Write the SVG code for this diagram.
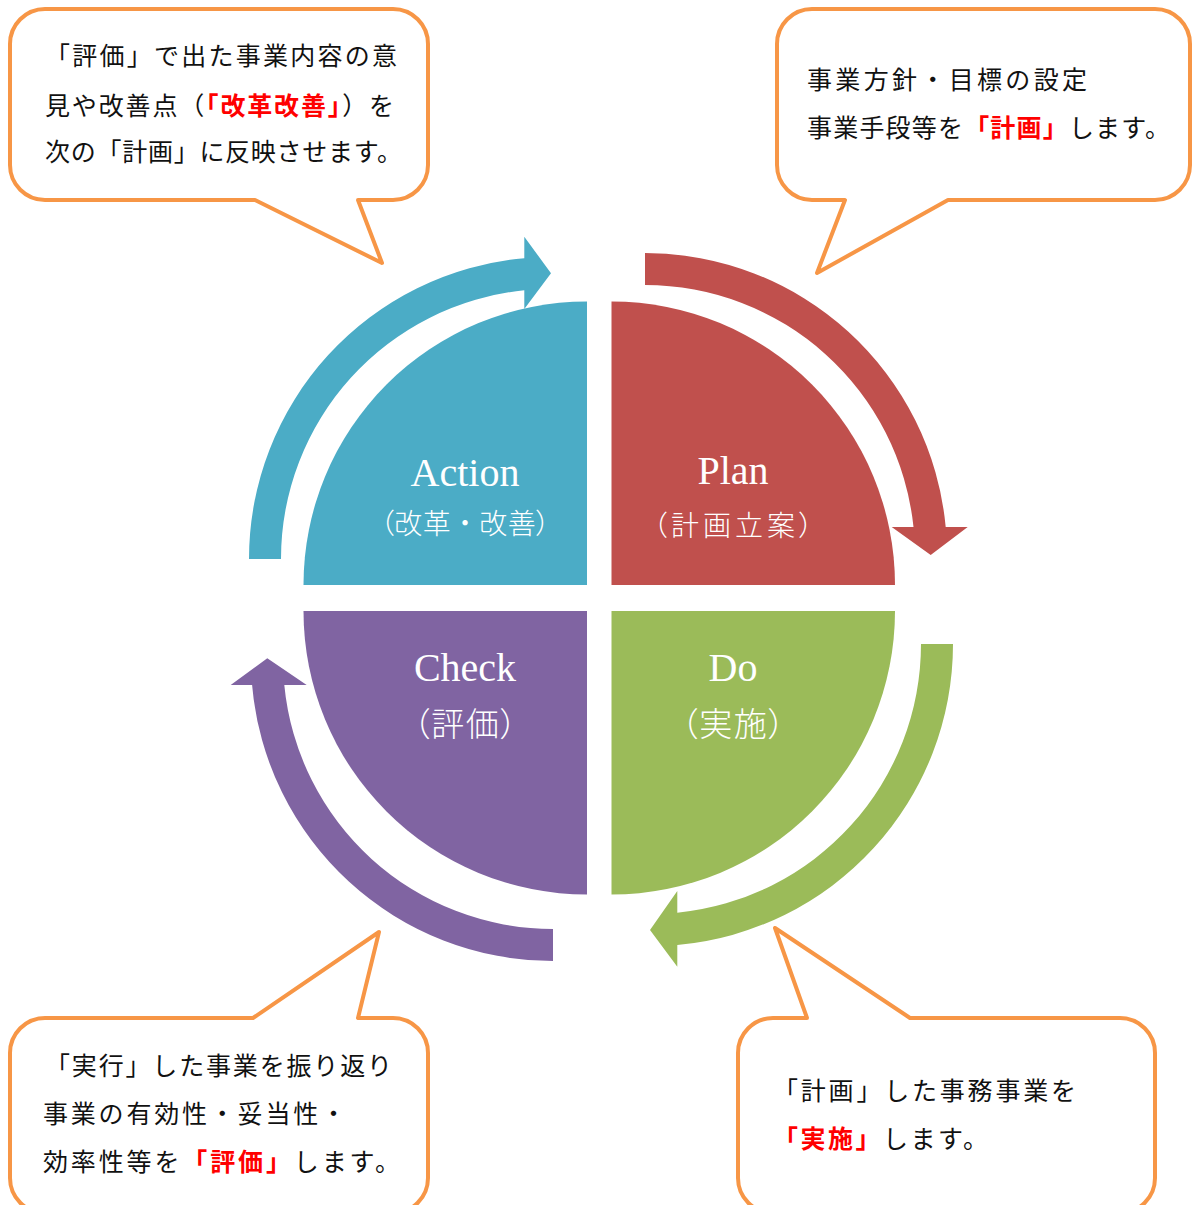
<svg xmlns="http://www.w3.org/2000/svg" width="1192" height="1205" viewBox="0 0 1192 1205">
<style>
.callout{fill:#FFFFFF;stroke:#F79646;stroke-width:4;stroke-linejoin:round}
.ct{font-family:"Noto Sans CJK JP","Noto Sans",sans-serif;font-size:25px;fill:#111111}
.red{fill:#FF0000;font-weight:bold}
.lbl{font-family:"Liberation Serif","Noto Sans CJK JP",serif;font-size:40px;fill:#FFFFFF;text-anchor:middle}
.sub{font-family:"Noto Sans CJK JP","Liberation Serif",sans-serif;font-size:28px;fill:#FFFFFF;text-anchor:middle;font-weight:300}
.p{font-feature-settings:"palt"}
</style>
<rect x="0" y="0" width="1192" height="1205" fill="#FFFFFF"/>

<g id="connectors">
  <path id="arrow-plan" fill="#C0504D" d="M645,253 A302,302 0 0 1 945.7,527 L967.7,527 L930.7,555 L891.7,527 L913.5,527 A270,270 0 0 0 645,285 Z"/>
  <path id="arrow-do" fill="#9BBB59" d="M953,644 A302,302 0 0 1 677.3,944.9 L677.3,966.7 L650,930 L677.3,891 L677.3,912.7 A270,270 0 0 0 921,644 Z"/>
  <path id="arrow-check" fill="#8064A2" d="M553,961 A302,302 0 0 1 252.1,685 L230.7,685 L267.3,658.3 L306.7,685 L284.3,685 A270,270 0 0 0 553,929 Z"/>
  <path id="arrow-action" fill="#4BACC6" d="M249,559 A302,302 0 0 1 524.3,258.2 L524.3,236.7 L551,273.3 L524.3,309 L524.3,290.3 A270,270 0 0 0 281,559 Z"/>
</g>

<g id="node-action">
  <path fill="#4BACC6" d="M587,585 L303.5,585 A283.5,283.5 0 0 1 587,301.5 Z"/>
  <text class="lbl" x="465" y="486">Action</text>
  <text class="sub" x="465" y="534" textLength="170" lengthAdjust="spacing"><tspan class="p">（</tspan>改革・改善<tspan class="p">）</tspan></text>
</g>

<g id="node-plan">
  <path fill="#C0504D" d="M611.5,585 L611.5,301.5 A283.5,283.5 0 0 1 895,585 Z"/>
  <text class="lbl" x="733" y="484">Plan</text>
  <text class="sub" x="733" y="536" textLength="160" lengthAdjust="spacing"><tspan class="p">（</tspan>計画立案<tspan class="p">）</tspan></text>
</g>

<g id="node-check">
  <path fill="#8064A2" d="M587,611 L587,894.5 A283.5,283.5 0 0 1 303.5,611 Z"/>
  <text class="lbl" x="465" y="681">Check</text>
  <text class="sub" x="465" y="736" style="font-size:33px" textLength="104" lengthAdjust="spacing"><tspan class="p">（</tspan>評価<tspan class="p">）</tspan></text>
</g>

<g id="node-do">
  <path fill="#9BBB59" d="M611.5,611 L895,611 A283.5,283.5 0 0 1 611.5,894.5 Z"/>
  <text class="lbl" x="733" y="681">Do</text>
  <text class="sub" x="733" y="736" style="font-size:33px" textLength="104" lengthAdjust="spacing"><tspan class="p">（</tspan>実施<tspan class="p">）</tspan></text>
</g>

<g id="callout-action">
  <path class="callout" d="M45,9 H393 A35,35 0 0 1 428,44 V165 A35,35 0 0 1 393,200 H358 L382,263 L255,200 H45 A35,35 0 0 1 10,165 V44 A35,35 0 0 1 45,9 Z"/>
  <text class="ct" x="45" y="65" textLength="352" lengthAdjust="spacing">「評価」で出た事業内容の意</text>
  <text class="ct" x="45" y="115" textLength="349" lengthAdjust="spacing">見や改善点（<tspan class="red">「改革改善」</tspan>）を</text>
  <text class="ct" x="45" y="161" textLength="357" lengthAdjust="spacing">次の「計画」に反映させます。</text>
</g>

<g id="callout-plan">
  <path class="callout" d="M812,9 H1155 A35,35 0 0 1 1190,44 V165 A35,35 0 0 1 1155,200 H948 L817,273 L845,200 H812 A35,35 0 0 1 777,165 V44 A35,35 0 0 1 812,9 Z"/>
  <text class="ct" x="807" y="89" textLength="280" lengthAdjust="spacing">事業方針・目標の設定</text>
  <text class="ct" x="807" y="137" textLength="363" lengthAdjust="spacing">事業手段等を<tspan class="red">「計画」</tspan>します。</text>
</g>

<g id="callout-check">
  <path class="callout" d="M45,1018 H253 L379,932 L358,1018 H393 A35,35 0 0 1 428,1053 V1178 A35,35 0 0 1 393,1213 H45 A35,35 0 0 1 10,1178 V1053 A35,35 0 0 1 45,1018 Z"/>
  <text class="ct" x="45" y="1075" textLength="347" lengthAdjust="spacing">「実行」した事業を振り返り</text>
  <text class="ct" x="43" y="1123" textLength="303" lengthAdjust="spacing">事業の有効性・妥当性・</text>
  <text class="ct" x="43" y="1171" textLength="357" lengthAdjust="spacing">効率性等を<tspan class="red">「評価」</tspan>します。</text>
</g>

<g id="callout-do">
  <path class="callout" d="M773,1018 H807 L775,928 L910,1018 H1120 A35,35 0 0 1 1155,1053 V1178 A35,35 0 0 1 1120,1213 H773 A35,35 0 0 1 738,1178 V1053 A35,35 0 0 1 773,1018 Z"/>
  <text class="ct" x="773" y="1100" textLength="303" lengthAdjust="spacing">「計画」した事務事業を</text>
  <text class="ct" x="773" y="1148" textLength="215" lengthAdjust="spacing"><tspan class="red">「実施」</tspan>します。</text>
</g>
</svg>
